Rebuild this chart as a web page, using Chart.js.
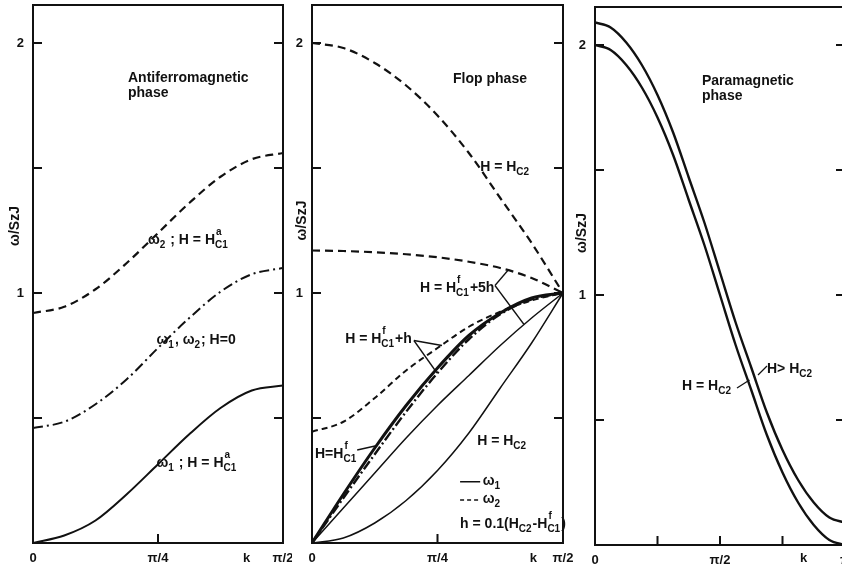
<!DOCTYPE html>
<html lang="en">
<head>
<meta charset="UTF-8">
<title>Spin-wave dispersion</title>
<script src="https://cdn.jsdelivr.net/npm/chart.js"></script>
<style>
  html, body { margin: 0; padding: 0; background: #fff; overflow: hidden; }
  body { width: 842px; height: 569px; position: relative; }
  canvas { position: absolute; top: 0; }
</style>
</head>
<body>
<canvas id="afm" width="292" height="569" style="left:0"></canvas>
<canvas id="flop" width="290" height="569" style="left:290px"></canvas>
<canvas id="para" width="276" height="569" style="left:574px"></canvas>
<script>
// k in units of pi
const kHalf = [0, 0.0625, 0.125, 0.1875, 0.25, 0.3125, 0.375, 0.4375, 0.5];
const kFull = [0, 0.0625, 0.125, 0.1875, 0.25, 0.3125, 0.375, 0.4375, 0.5,
               0.5625, 0.625, 0.6875, 0.75, 0.8125, 0.875, 0.9375, 1];

// antiferromagnetic phase
const afmW2Hc1 = [0.92, 0.945, 1.015, 1.12, 1.24, 1.36, 1.465, 1.535, 1.56];
const afmH0    = [0.46, 0.485, 0.555, 0.655, 0.78, 0.90, 1.005, 1.075, 1.10];
const afmW1Hc1 = [0, 0.03, 0.09, 0.195, 0.315, 0.435, 0.54, 0.61, 0.63];

// flop phase
const flopW2Hc2 = [2.00, 1.98, 1.92, 1.83, 1.71, 1.56, 1.38, 1.20, 1.00];
const flopW2h5  = [1.17, 1.168, 1.163, 1.155, 1.143, 1.125, 1.10, 1.06, 1.00];
const flopW2h1  = [0.445, 0.485, 0.58, 0.69, 0.78, 0.865, 0.925, 0.97, 1.00];
const flopW1h1  = [0, 0.18, 0.355, 0.525, 0.68, 0.815, 0.915, 0.975, 1.00];
const flopW1Hc1 = [0, 0.195, 0.38, 0.55, 0.70, 0.83, 0.92, 0.98, 1.00];
const flopW1h5  = [0, 0.14, 0.28, 0.42, 0.55, 0.67, 0.79, 0.90, 1.00];
const flopW1Hc2 = [0, 0.02, 0.08, 0.17, 0.29, 0.44, 0.62, 0.80, 1.00];

// paramagnetic phase
const paraHc2   = [2.00, 1.98, 1.92, 1.83, 1.71, 1.56, 1.38, 1.20, 1.00,
                   0.80, 0.62, 0.44, 0.29, 0.17, 0.08, 0.02, 0.00];
const paraAbove = [2.09, 2.07, 2.01, 1.92, 1.80, 1.65, 1.47, 1.29, 1.09,
                   0.89, 0.71, 0.53, 0.38, 0.26, 0.17, 0.11, 0.09];

const yTicks = [0.5, 1, 1.5, 2];
const yLabels = ['', '1', '', '2'];
const xTicksHalf = [0, 0.25, 0.5];
const xLabelsHalf = ['0', 'π/4', 'π/2'];
const xTicksFull = [0, 0.25, 0.5, 0.75, 1];
const xLabelsFull = ['0', '', 'π/2', '', 'π'];

const INK = '#111';
const FONT = '"Liberation Sans", Arial, sans-serif';

function pts(ks, ys) {
    return ks.map((k, i) => ({ x: k, y: ys[i] }));
}

// text with _sub and ^sup (stacked when both follow each other)
function drawRich(ctx, str, x, y, size) {
    const main = `bold ${size}px ${FONT}`;
    const small = `bold ${Math.round(size * 0.74)}px ${FONT}`;
    let i = 0, cx = x;
    while (i < str.length) {
        if (str[i] === '_' || str[i] === '^') {
            let sub = null, sup = null;
            while (i < str.length && (str[i] === '_' || str[i] === '^')) {
                const kind = str[i]; i++;
                let g;
                if (str[i] === '{') { const j = str.indexOf('}', i); g = str.slice(i + 1, j); i = j + 1; }
                else { g = str[i]; i++; }
                if (kind === '_') sub = g; else sup = g;
            }
            ctx.font = small;
            let w = 0;
            if (sub) { ctx.fillText(sub, cx, y + 4); w = ctx.measureText(sub).width; }
            if (sup) { ctx.fillText(sup, cx + 1, y - 9); w = Math.max(w, ctx.measureText(sup).width); }
            cx += w + 1;
        } else {
            let j = i;
            while (j < str.length && str[j] !== '_' && str[j] !== '^') j++;
            const run = str.slice(i, j);
            ctx.font = main;
            ctx.fillText(run, cx, y);
            cx += ctx.measureText(run).width;
            i = j;
        }
    }
}

// box round the plot and inward tick marks
const frameTicks = {
    id: 'frameTicks',
    afterDatasetsDraw(chart) {
        const { ctx, chartArea: a, scales: { x, y } } = chart;
        ctx.save();
        ctx.strokeStyle = INK;
        ctx.lineWidth = 2;
        ctx.strokeRect(a.left, a.top, a.right - a.left, a.bottom - a.top);
        ctx.beginPath();
        y.ticks.forEach(t => {
            const py = y.getPixelForValue(t.value);
            ctx.moveTo(a.left, py); ctx.lineTo(a.left + 9, py);
            ctx.moveTo(a.right, py); ctx.lineTo(a.right - 9, py);
        });
        x.ticks.forEach(t => {
            if (t.value <= x.min || t.value >= x.max) return;
            const px = x.getPixelForValue(t.value);
            ctx.moveTo(px, a.bottom); ctx.lineTo(px, a.bottom - 9);
        });
        ctx.stroke();
        ctx.restore();
    }
};

// labels and leader lines, placed in data units
const notes = {
    id: 'notes',
    afterDraw(chart, args, opts) {
        const { ctx, scales: { x, y } } = chart;
        ctx.save();
        ctx.fillStyle = INK;
        ctx.strokeStyle = INK;
        (opts.lines || []).forEach(l => {
            ctx.lineWidth = l.w || 1.3;
            ctx.setLineDash(l.dash || []);
            ctx.beginPath();
            l.p.forEach((p, i) => {
                const px = x.getPixelForValue(p[0]), py = y.getPixelForValue(p[1]);
                if (i === 0) ctx.moveTo(px, py); else ctx.lineTo(px, py);
            });
            ctx.stroke();
        });
        ctx.setLineDash([]);
        (opts.items || []).forEach(n => {
            const px = x.getPixelForValue(n.x), py = y.getPixelForValue(n.y);
            if (n.rot) {
                ctx.save();
                ctx.translate(px, py);
                ctx.rotate(-Math.PI / 2);
                ctx.font = `bold 14px ${FONT}`;
                ctx.textAlign = 'center';
                ctx.textBaseline = 'middle';
                ctx.fillText(n.t, 0, 0);
                ctx.restore();
            } else {
                drawRich(ctx, n.t, px, py, n.s || 14);
            }
        });
        ctx.restore();
    }
};

function solid(data, w) {
    return { data, borderColor: INK, borderWidth: w || 2, pointRadius: 0 };
}
function dashed(data, w, dash) {
    return { data, borderColor: INK, borderWidth: w || 2, pointRadius: 0, borderDash: dash || [8, 5] };
}

// keep labels from pushing the plot box inward
function noPad(s) {
    s.paddingLeft = 0; s.paddingRight = 0; s.paddingTop = 0; s.paddingBottom = 0;
}

function makePanel(id, p) {
    return new Chart(document.getElementById(id), {
        type: 'line',
        data: { datasets: p.datasets },
        options: {
            responsive: false,
            animation: false,
            devicePixelRatio: 1,
            layout: { autoPadding: false, padding: { left: 0, right: p.right, top: p.top, bottom: 0 } },
            elements: { line: { cubicInterpolationMode: 'monotone', fill: false } },
            plugins: {
                legend: { display: false },
                tooltip: { enabled: false },
                notes: { items: p.items, lines: p.lines }
            },
            scales: {
                x: {
                    type: 'linear', min: 0, max: p.xMax,
                    grid: { display: false, drawTicks: false },
                    border: { display: false },
                    afterBuildTicks: s => { s.ticks = p.xTicks.map(v => ({ value: v })); },
                    afterFit: s => { s.height = p.xh; noPad(s); },
                    ticks: {
                        autoSkip: false, maxRotation: 0, padding: 8, color: INK,
                        font: { family: FONT, size: 13, weight: 'bold' },
                        callback: (v, i) => p.xLabels[i]
                    }
                },
                y: {
                    type: 'linear', min: 0, max: 2.152,
                    grid: { display: false, drawTicks: false },
                    border: { display: false },
                    afterBuildTicks: s => { s.ticks = yTicks.map(v => ({ value: v })); },
                    afterFit: s => { s.width = p.yw; noPad(s); },
                    ticks: {
                        autoSkip: false, padding: 9, color: INK,
                        font: { family: FONT, size: 13, weight: 'bold' },
                        callback: (v, i) => yLabels[i]
                    }
                }
            }
        },
        plugins: [frameTicks, notes]
    });
}

makePanel('afm', {
    xMax: 0.5, xTicks: xTicksHalf, xLabels: xLabelsHalf,
    yw: 33, xh: 26, top: 5, right: 9,
    datasets: [
        dashed(pts(kHalf, afmW2Hc1), 2.2, [8, 5]),
        dashed(pts(kHalf, afmH0), 2, [10, 4, 2, 4]),
        solid(pts(kHalf, afmW1Hc1), 2)
    ],
    items: [
        { x: 0.19, y: 1.845, t: 'Antiferromagnetic' },
        { x: 0.19, y: 1.785, t: 'phase' },
        { x: 0.23, y: 1.196, t: 'ω_2 ; H = H_{C1}^{a}' },
        { x: 0.247, y: 0.796, t: 'ω_1, ω_2; H=0' },
        { x: 0.247, y: 0.305, t: 'ω_1 ; H = H_{C1}^{a}' },
        { x: 0.42, y: -0.076, t: 'k', s: 13 },
        { x: -0.036, y: 1.268, t: 'ω/SzJ', rot: true }
    ],
    lines: []
});

makePanel('flop', {
    xMax: 0.5, xTicks: xTicksHalf, xLabels: xLabelsHalf,
    yw: 22, xh: 26, top: 5, right: 17,
    datasets: [
        dashed(pts(kHalf, flopW2Hc2), 2.2, [8, 5]),
        dashed(pts(kHalf, flopW2h5), 2.2, [8, 5]),
        dashed(pts(kHalf, flopW2h1), 2, [6, 4]),
        dashed(pts(kHalf, flopW1h1), 2.4, [10, 3, 2, 3]),
        solid(pts(kHalf, flopW1Hc1), 3),
        solid(pts(kHalf, flopW1h5), 1.5),
        solid(pts(kHalf, flopW1Hc2), 1.5)
    ],
    items: [
        { x: 0.281, y: 1.84, t: 'Flop phase' },
        { x: 0.335, y: 1.49, t: 'H = H_{C2}' },
        { x: 0.215, y: 1.005, t: 'H = H_{C1}^{f}+5h' },
        { x: 0.066, y: 0.80, t: 'H = H_{C1}^{f}+h' },
        { x: 0.006, y: 0.34, t: 'H=H_{C1}^{f}' },
        { x: 0.329, y: 0.392, t: 'H = H_{C2}' },
        { x: 0.34, y: 0.232, t: 'ω_1' },
        { x: 0.34, y: 0.16, t: 'ω_2' },
        { x: 0.295, y: 0.06, t: 'h = 0.1(H_{C2}-H_{C1}^{f})' },
        { x: 0.434, y: -0.076, t: 'k', s: 13 },
        { x: -0.02, y: 1.29, t: 'ω/SzJ', rot: true }
    ],
    lines: [
        { p: [[0.3645, 1.03], [0.39, 1.09]] },
        { p: [[0.3645, 1.03], [0.422, 0.875]] },
        { p: [[0.203, 0.81], [0.259, 0.79]] },
        { p: [[0.203, 0.81], [0.249, 0.68]] },
        { p: [[0.09, 0.372], [0.13, 0.39]] },
        { p: [[0.295, 0.245], [0.335, 0.245]], w: 1.5 },
        { p: [[0.295, 0.172], [0.335, 0.172]], w: 1.5, dash: [4, 3] }
    ]
});

makePanel('para', {
    xMax: 1, xTicks: xTicksFull, xLabels: xLabelsFull,
    yw: 21, xh: 24, top: 7, right: 5,
    datasets: [
        solid(pts(kFull, paraAbove), 2.4),
        solid(pts(kFull, paraHc2), 2.4)
    ],
    items: [
        { x: 0.428, y: 1.84, t: 'Paramagnetic' },
        { x: 0.428, y: 1.78, t: 'phase' },
        { x: 0.688, y: 0.69, t: 'H> H_{C2}' },
        { x: 0.348, y: 0.62, t: 'H = H_{C2}' },
        { x: 0.82, y: -0.068, t: 'k', s: 13 },
        { x: -0.052, y: 1.248, t: 'ω/SzJ', rot: true }
    ],
    lines: [
        { p: [[0.688, 0.716], [0.652, 0.68]] },
        { p: [[0.568, 0.628], [0.618, 0.66]] }
    ]
});
</script>
</body>
</html>
